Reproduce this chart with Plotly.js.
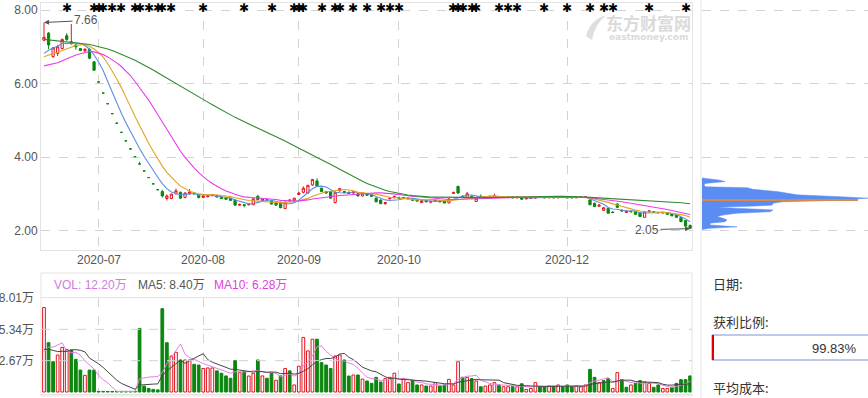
<!DOCTYPE html>
<html><head><meta charset="utf-8">
<script src="https://cdn.plot.ly/plotly-3.0.1.min.js"></script>
<style>html,body{margin:0;padding:0;background:#fff;overflow:hidden}#c{width:868px;height:398px}</style>
</head><body><div id="c"></div>
<script>
const W = 868, H = 398;
const px = x => x / W, py = y => 1 - y / H;

// ---------- data ----------
const openP = [7.18,7.37,6.73,6.82,6.95,7.30,7.08,7.05,6.95,6.89,6.93,6.59,
 6.04,5.74,5.45,5.18,4.92,4.67,4.44,4.22,4.01,3.81,3.62,3.44,3.27,3.11,
 3.06,2.87,2.87,3.00,3.04,2.90,3.00,3.02,2.96,2.90,
 2.92,2.95,2.95,2.91,2.89,2.88,2.83,2.69,2.70,2.70,
 2.70,2.93,2.80,2.84,2.80,2.75,2.77,2.60,2.80,2.82,
 2.98,3.04,3.02,3.24,3.35,3.15,3.06,3.06,2.76,3.08,
 3.06,3.04,3.02,3.00,2.94,3.00,2.98,2.88,2.83,2.73,
 2.86,2.89,2.90,2.88,2.86,2.87,2.84,2.76,2.82,2.77,
 2.79,2.81,2.79,2.75,3.01,3.20,2.93,2.89,2.93,2.79,
 2.93,2.90,2.91,2.92,2.92,2.90,2.90,2.92,2.89,2.90,
 2.86,2.87,2.88,2.92,2.91,2.89,2.91,2.89,2.91,2.91,
 2.90,2.89,2.90,2.90,2.83,2.74,2.66,2.55,2.60,2.50,
 2.72,2.55,2.49,2.52,2.51,2.48,2.36,2.51,2.51,2.48,
 2.49,2.48,2.46,2.42,2.35,2.27,2.14];
const highP = [7.66,7.40,6.99,7.05,7.22,7.37,7.62,7.06,6.96,6.96,6.96,6.60,
 6.04,5.74,5.45,5.18,4.92,4.67,4.44,4.22,4.01,3.87,3.62,3.44,3.27,3.11,
 3.11,2.98,3.00,3.14,3.06,3.04,3.13,3.04,2.98,2.97,
 2.96,2.99,2.96,2.92,2.90,2.89,2.84,2.73,2.72,2.74,
 2.88,2.97,2.87,2.86,2.82,2.77,2.78,2.79,2.84,2.89,
 3.05,3.20,3.24,3.40,3.42,3.17,3.08,3.08,3.06,3.16,
 3.08,3.06,3.06,3.02,3.03,3.01,2.99,2.90,2.84,2.78,
 2.90,2.95,2.92,2.90,2.89,2.88,2.85,2.82,2.83,2.81,
 2.84,2.82,2.80,2.87,3.06,3.22,2.96,3.05,2.95,2.89,
 2.98,2.93,2.94,3.00,2.94,2.93,2.93,2.93,2.92,2.91,
 2.89,2.90,2.93,2.94,2.92,2.93,2.92,2.92,2.92,2.92,
 2.91,2.92,2.92,2.93,2.85,2.76,2.72,2.64,2.61,2.52,
 2.74,2.57,2.55,2.54,2.52,2.49,2.52,2.56,2.53,2.51,
 2.50,2.49,2.47,2.43,2.36,2.28,2.16];
const lowP = [7.15,6.94,6.70,6.75,6.93,7.16,7.06,6.92,6.88,6.84,6.66,6.36,
 6.04,5.74,5.45,5.18,4.92,4.67,4.44,4.22,4.01,3.81,3.62,3.44,3.27,3.11,
 2.90,2.82,2.85,2.98,2.86,2.88,2.98,2.98,2.87,2.88,
 2.90,2.93,2.90,2.86,2.84,2.81,2.68,2.67,2.63,2.68,
 2.69,2.82,2.79,2.81,2.71,2.68,2.61,2.58,2.79,2.80,
 2.97,3.01,3.00,3.22,3.19,3.05,3.00,2.87,2.74,3.06,
 3.02,3.00,3.00,2.93,2.93,2.95,2.92,2.77,2.72,2.70,
 2.85,2.88,2.87,2.86,2.85,2.81,2.79,2.75,2.77,2.74,
 2.78,2.77,2.74,2.74,3.00,3.00,2.90,2.88,2.86,2.78,
 2.90,2.89,2.89,2.91,2.89,2.89,2.89,2.88,2.88,2.84,
 2.85,2.86,2.87,2.89,2.88,2.88,2.88,2.88,2.89,2.88,
 2.88,2.88,2.89,2.89,2.69,2.64,2.65,2.53,2.46,2.47,
 2.62,2.52,2.48,2.50,2.43,2.37,2.35,2.50,2.49,2.47,
 2.47,2.43,2.39,2.35,2.23,2.11,2.05];
const closeP = [7.26,7.05,6.97,7.00,7.20,7.20,7.14,7.00,6.90,6.93,6.69,6.36,
 6.04,5.74,5.45,5.18,4.92,4.67,4.44,4.22,4.01,3.81,3.62,3.44,3.27,3.11,
 2.94,2.94,2.99,3.08,2.88,3.02,3.05,3.00,2.90,2.94,
 2.94,2.97,2.91,2.87,2.85,2.82,2.69,2.71,2.68,2.72,
 2.86,2.84,2.86,2.83,2.72,2.69,2.62,2.77,2.83,2.88,
 3.02,3.15,3.23,3.39,3.21,3.06,3.02,2.88,3.04,3.14,
 3.03,3.01,3.05,2.94,3.02,2.96,2.93,2.78,2.73,2.76,
 2.88,2.93,2.88,2.89,2.87,2.82,2.80,2.81,2.78,2.79,
 2.83,2.78,2.75,2.86,3.03,3.02,2.92,3.00,2.87,2.88,
 2.91,2.92,2.93,2.94,2.90,2.91,2.92,2.89,2.91,2.85,
 2.88,2.89,2.92,2.90,2.89,2.91,2.89,2.91,2.90,2.89,
 2.89,2.91,2.91,2.92,2.70,2.65,2.69,2.62,2.47,2.49,
 2.63,2.53,2.53,2.51,2.44,2.38,2.51,2.53,2.50,2.49,
 2.48,2.44,2.40,2.36,2.24,2.12,2.06];
// closes of the 59 sessions before the window (needed for the moving averages)
const prevClose = [7.80,7.85,7.90,7.85,7.80,7.88,7.92,7.85,7.82,7.83,
 7.78,7.75,7.72,7.70,7.68,7.70,7.66,7.62,7.60,7.58,
 7.55,7.52,7.50,7.48,7.45,7.42,7.40,7.38,7.35,7.32,
 7.30,7.35,7.32,7.28,7.25,7.30,7.22,7.20,7.25,7.27,
 6.60,6.45,6.30,6.15,6.05,6.00,6.10,6.20,6.30,6.15,
 6.55,6.60,6.65,6.70,6.70,6.62,6.68,6.74,6.80];
// volume, 万
const vol = [7.2,4.2,2.58,3.15,3.8,3.63,3.58,2.78,1.87,1.42,1.87,1.87,
 0.05,0.05,0.05,0.05,0.05,0.05,0.05,0.05,0.05,5.42,0.5,0.3,0.22,0.18,
 7.1,4.2,3.07,3.38,2.73,2.73,2.73,2.36,2.3,2.0,
 2.05,2.05,1.8,1.6,1.37,1.17,2.67,1.65,1.75,1.36,
 1.6,2.73,1.37,1.17,1.6,1.0,1.37,2.0,1.8,0.6,
 2.2,4.65,3.5,4.5,4.5,2.5,2.3,2.0,3.07,3.15,
 2.73,1.36,1.45,1.45,1.1,0.94,0.74,1.25,0.85,1.14,
 1.25,1.6,0.68,1.14,0.8,0.97,0.6,0.6,0.51,0.51,
 0.8,0.51,0.6,1.08,0.6,2.58,1.25,1.25,1.14,0.94,
 0.45,0.51,0.6,0.8,0.6,0.45,0.45,0.45,0.45,0.7,
 0.22,0.3,0.8,0.45,0.45,0.51,0.45,0.6,0.45,0.6,
 0.45,0.51,0.45,0.6,1.93,1.25,0.8,0.97,1.14,0.3,
 1.65,1.05,0.4,0.6,0.74,0.97,0.85,0.74,0.4,0.6,
 0.3,0.3,0.4,0.74,1.05,1.05,1.37];
// r = up day (hollow red), g = down day (green)
const volDir = "rggrrrgggrgg" + "gggggggggggggg" + "ggrrgrrggr" + "rrgggggrgr" + "rgrggrgrgr" +
 "rrrrggggrr" + "ggrgrggggr" + "rrgrrggrgr" + "rggrrrgrgr" + "grrrgrrgrg" + "rrrggrgrgg" +
 "grrrggrggr" + "rggrggrrgg" + "rrggggg";
const prevVol = [4.0,3.6,4.2,3.5,3.85,2.2,2.6,2.4,2.75];

const tickIdx = [12,35,56,78,115];
const tickText = ['2020-07','2020-08','2020-09','2020-10','2020-12'];
const priceTicks = [2,4,6,8];
const volTicks = [0,2.67,5.34,8.01];
const volTickText = ['0','2.67万','5.34万','8.01万'];
const eventIdx = [5,11,12,13,15,17,20,21,23,25,26,28,35,44,50,55,56,57,61,64,65,68,71,74,76,78,
 90,91,92,94,95,100,102,104,110,115,120,123,125,133,141];
const chipPrice = [3.43,3.40,3.37,3.33,3.30,3.28,3.23,3.19,3.165,3.12,3.06,3.01,2.97,2.92,2.90,2.88,2.85,2.83,2.80,2.78,
 2.74,2.69,2.67,2.63,2.60,2.56,2.51,2.47,2.42,2.38,2.33,2.29,2.24,2.20,2.15,2.10,2.06,2.03];
const chipAmt = [0,10,18,23,10,3,2,4,45,51,75,88,95,138,150,166,150,140,110,80,
 71,70,55,15,38,71,68,35,21,15,21,25,23,8,8,35,8,0];
const avgCost = 2.83, avgCostAmt = 156;
const volLegend = {vol:'12.20万', ma5:'8.40万', ma10:'6.28万'};
const profitRatio = '99.83%';

// ---------- helpers ----------
function movingAvg(series, hist, n) {
  const all = hist.concat(series), off = hist.length;
  return series.map((_, i) => { let s = 0; for (let k = 0; k < n; k++) s += all[off + i - k]; return s / n; });
}
const idx = closeP.map((_, i) => i);
const RED = '#e3141d', GREEN = '#0b860f';
const FONT = '"Liberation Sans", Arial, "Noto Sans CJK SC", sans-serif';
const CJK = '"Noto Sans CJK SC", sans-serif';
const maxI = highP.indexOf(Math.max(...highP));
const minI = lowP.indexOf(Math.min(...lowP));

const traces = [];
traces.push({type:'candlestick', x: idx, open: openP, high: highP, low: lowP, close: closeP,
  xaxis:'x', yaxis:'y', whiskerwidth: 0, hoverinfo:'none',
  increasing:{line:{color:RED, width:1}, fillcolor:'#ffffff'},
  decreasing:{line:{color:GREEN, width:1}, fillcolor:GREEN}, showlegend:false});
[[5,'#5b8ee6'],[10,'#dea421'],[20,'#e93ce9'],[60,'#2f8a2f']].forEach(([n,c]) => {
  traces.push({type:'scatter', mode:'lines', x: idx, y: movingAvg(closeP, prevClose, n),
    line:{color:c, width:1.1}, xaxis:'x', yaxis:'y', hoverinfo:'skip', showlegend:false});
});
traces.push({type:'bar', x: idx, y: vol, xaxis:'x2', yaxis:'y2', width: 0.6, hoverinfo:'skip',
  marker:{color: volDir.split('').map(d => d === 'r' ? '#ffffff' : GREEN),
          line:{color: volDir.split('').map(d => d === 'r' ? RED : GREEN), width:1}}, showlegend:false});
traces.push({type:'scatter', mode:'lines', x: idx, y: movingAvg(vol, prevVol, 5), xaxis:'x2', yaxis:'y2',
  line:{color:'#e77de7', width:1}, hoverinfo:'skip', showlegend:false});
traces.push({type:'scatter', mode:'lines', x: idx, y: movingAvg(vol, prevVol, 10), xaxis:'x2', yaxis:'y2',
  line:{color:'#444444', width:1}, hoverinfo:'skip', showlegend:false});
traces.push({type:'scatter', mode:'lines', x: chipAmt, y: chipPrice, xaxis:'x3', yaxis:'y',
  fill:'tozerox', fillcolor:'#5a8cf2', line:{color:'#5a8cf2', width:0.5}, hoverinfo:'skip', showlegend:false});
traces.push({type:'scatter', mode:'lines', x: [0, avgCostAmt], y: [avgCost, avgCost], xaxis:'x3', yaxis:'y',
  line:{color:'#d88a4c', width:2}, hoverinfo:'skip', showlegend:false});

const gridCol = '#d3d3d3', lineCol = '#e3e3e3';
const xRange = [-0.66, 142.42];
const annotations = [];
const txt = (x, y, text, font, xanchor) => ({x, y, xref:'paper', yref:'paper', text, font, showarrow:false,
  xanchor: xanchor || 'left', yanchor:'middle'});
annotations.push({x: maxI, y: highP[maxI], xref:'x', yref:'y', text: highP[maxI].toFixed(2), showarrow:true,
  ax: 42, ay: -2, arrowhead: 2, arrowsize: 1, arrowwidth: 1, arrowcolor:'#555', xanchor:'center', yanchor:'middle',
  font:{family:FONT, size:12, color:'#555'}});
annotations.push({x: minI, y: lowP[minI], xref:'x', yref:'y', text: lowP[minI].toFixed(2), showarrow:true,
  ax: -43, ay: 1, arrowhead: 2, arrowsize: 1, arrowwidth: 1, arrowcolor:'#555', xanchor:'center', yanchor:'middle',
  font:{family:FONT, size:12, color:'#555'}});
eventIdx.forEach(i => annotations.push({x: i, y: py(8), xref:'x', yref:'paper', text:'✱', showarrow:false,
  font:{family:'DejaVu Sans', size:12, color:'#000'}, xanchor:'center', yanchor:'middle'}));
// x tick labels
tickIdx.forEach((t, k) => annotations.push({x: t, y: py(260), xref:'x', yref:'paper', text: tickText[k], showarrow:false,
  xanchor:'center', yanchor:'middle', font:{family:FONT, size:12, color:'#555'}}));
// volume legend
annotations.push(txt(px(52), py(285), 'VOL: ' + volLegend.vol, {family:FONT, size:12, color:'#d27be0'}));
annotations.push(txt(px(136), py(285), 'MA5: ' + volLegend.ma5, {family:FONT, size:12, color:'#555'}));
annotations.push(txt(px(212), py(285), 'MA10: ' + volLegend.ma10, {family:FONT, size:12, color:'#e040e0'}));
// watermark
annotations.push(txt(px(648), py(22), '<b>东方财富网</b>', {family:CJK, size:17, color:'#dadada'}, 'center'));
annotations.push(txt(px(648), py(37), '<b>eastmoney.com</b>', {family:'DejaVu Sans', size:9, color:'#dadada'}, 'center'));
// right panel
[['日期:',283],['获利比例:',321],['平均成本:',387]].forEach(([t,y]) =>
  annotations.push(txt(px(711), py(y), t, {family:CJK, size:13, color:'#333'})));
annotations.push(txt(px(859), py(348), profitRatio, {family:FONT, size:13, color:'#333'}, 'right'));

const shapes = [
  {type:'line', xref:'paper', yref:'paper', x0:px(701), x1:px(701), y0:0, y1:1, line:{color:'#e6e6e6', width:1}},
  {type:'rect', xref:'paper', yref:'paper', x0:px(41), x1:px(692), y0:py(396), y1:py(273), line:{color:lineCol, width:1}},
  {type:'rect', xref:'paper', yref:'paper', x0:px(712), x1:px(875), y0:py(360), y1:py(335), line:{color:'#7f92d8', width:1}},
  {type:'rect', xref:'paper', yref:'paper', x0:px(712), x1:px(714), y0:py(360), y1:py(335), fillcolor:'#e00000', line:{width:0}},
  {type:'path', xref:'paper', yref:'paper', fillcolor:'#dedede', line:{width:0},
   path:`M ${px(606)} ${py(15)} Q ${px(590)} ${py(20)} ${px(586)} ${py(36)} L ${px(592)} ${py(40)} Q ${px(594)} ${py(26)} ${px(606)} ${py(15)} Z`}
];
volTicks.filter(v => v > 0 && v < volTicks[volTicks.length-1]).forEach(v => shapes.push({type:'line', xref:'paper', yref:'y2',
  x0:px(41), x1:px(692), y0:v, y1:v, line:{color:gridCol, width:1, dash:'dash'}}));

const layout = {
  width: W, height: H, margin:{l:0, r:0, t:0, b:0}, paper_bgcolor:'#fff', plot_bgcolor:'rgba(0,0,0,0)',
  showlegend:false, hovermode:false, font:{family:FONT},
  xaxis:{domain:[px(41), px(692)], range:xRange, anchor:'y', tickvals:tickIdx, showticklabels:false,
    showgrid:true, gridcolor:gridCol, griddash:'dash', showline:true, mirror:true, linecolor:lineCol,
    ticks:'', zeroline:false, rangeslider:{visible:false}},
  yaxis:{domain:[py(250), py(3)], range:[1.4694, 8.1905], tickvals:priceTicks, ticktext:priceTicks.map(v => v.toFixed(2)),
    showgrid:true, gridcolor:gridCol, griddash:'dash', showline:true, mirror:true, linecolor:lineCol,
    ticks:'', zeroline:false, tickfont:{family:FONT, size:12, color:'#555'}},
  xaxis2:{domain:[px(41), px(692)], range:xRange, anchor:'y2', tickvals:tickIdx, showticklabels:false,
    showgrid:true, gridcolor:gridCol, griddash:'dash', showline:true, mirror:true, linecolor:lineCol, ticks:'', zeroline:false},
  yaxis2:{domain:[py(394), py(298)], range:[-0.17, 8.01], tickvals:volTicks, ticktext:volTickText,
    showgrid:false, showline:false, ticks:'', zeroline:false, ticklabelstandoff:6,
    tickfont:{family:FONT, size:12, color:'#555'}},
  xaxis3:{domain:[px(702), 1], range:[0, 166], anchor:'y', visible:false},
  annotations, shapes
};
Plotly.newPlot('c', traces, layout, {staticPlot:true, displayModeBar:false});
</script></body></html>
